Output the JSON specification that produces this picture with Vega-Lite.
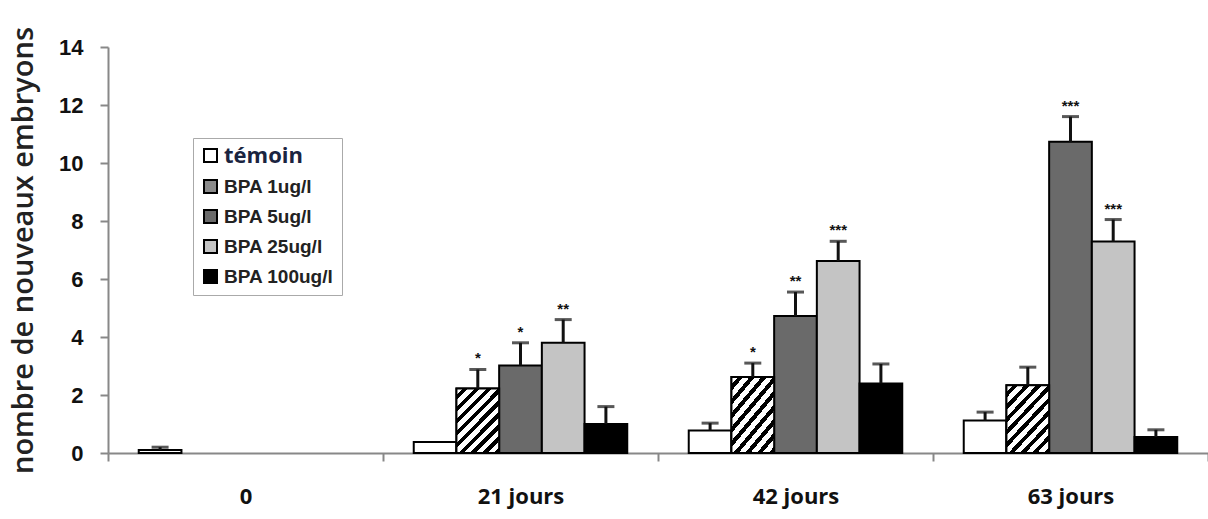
{
  "$schema": "https://vega.github.io/schema/vega-lite/v6.json",
  "width": 1100,
  "height": 406,
  "autosize": {"type": "none"},
  "padding": {"left": 108, "top": 47, "right": 0, "bottom": 66},
  "background": "white",
  "config": {"view": {"stroke": null}},
  "data": {
    "values": [
      {"groupe": "0", "serie": "témoin", "valeur": 0.1, "haut": 0.2, "sig": ""},
      {"groupe": "21 jours", "serie": "témoin", "valeur": 0.38, "haut": null, "sig": ""},
      {"groupe": "21 jours", "serie": "BPA 1ug/l", "valeur": 2.22, "haut": 2.88, "sig": "*"},
      {"groupe": "21 jours", "serie": "BPA 5ug/l", "valeur": 3.02, "haut": 3.8, "sig": "*"},
      {"groupe": "21 jours", "serie": "BPA 25ug/l", "valeur": 3.8, "haut": 4.6, "sig": "**"},
      {"groupe": "21 jours", "serie": "BPA 100ug/l", "valeur": 1.0, "haut": 1.6, "sig": ""},
      {"groupe": "42 jours", "serie": "témoin", "valeur": 0.78, "haut": 1.03, "sig": ""},
      {"groupe": "42 jours", "serie": "BPA 1ug/l", "valeur": 2.62, "haut": 3.1, "sig": "*"},
      {"groupe": "42 jours", "serie": "BPA 5ug/l", "valeur": 4.72, "haut": 5.55, "sig": "**"},
      {"groupe": "42 jours", "serie": "BPA 25ug/l", "valeur": 6.62, "haut": 7.3, "sig": "***"},
      {"groupe": "42 jours", "serie": "BPA 100ug/l", "valeur": 2.4, "haut": 3.07, "sig": ""},
      {"groupe": "63 jours", "serie": "témoin", "valeur": 1.12, "haut": 1.41, "sig": ""},
      {"groupe": "63 jours", "serie": "BPA 1ug/l", "valeur": 2.34, "haut": 2.96, "sig": ""},
      {"groupe": "63 jours", "serie": "BPA 5ug/l", "valeur": 10.73, "haut": 11.6, "sig": "***"},
      {"groupe": "63 jours", "serie": "BPA 25ug/l", "valeur": 7.29, "haut": 8.05, "sig": "***"},
      {"groupe": "63 jours", "serie": "BPA 100ug/l", "valeur": 0.55, "haut": 0.8, "sig": ""}
    ]
  },
  "encoding": {
    "x": {
      "field": "groupe",
      "type": "nominal",
      "sort": ["0", "21 jours", "42 jours", "63 jours"],
      "scale": {"domain": ["0", "21 jours", "42 jours", "63 jours"], "paddingInner": 0, "paddingOuter": 0},
      "axis": {
        "title": null,
        "labelAngle": 0,
        "tickBand": "extent",
        "domainColor": "#888",
        "domainWidth": 2,
        "tickColor": "#888",
        "tickWidth": 2,
        "tickSize": 8,
        "labelFont": "Open Sans",
        "labelFontWeight": "bold",
        "labelFontSize": 22,
        "labelColor": "#111",
        "labelPadding": 25
      }
    },
    "xOffset": {
      "field": "serie",
      "type": "nominal",
      "scale": {"domain": ["témoin", "BPA 1ug/l", "BPA 5ug/l", "BPA 25ug/l", "BPA 100ug/l"], "paddingInner": 0, "paddingOuter": 0.72}
    }
  },
  "layer": [
    {
      "mark": {"type": "bar", "stroke": "black", "strokeWidth": 2},
      "encoding": {
        "y": {
          "field": "valeur",
          "type": "quantitative",
          "scale": {"domain": [0, 14], "nice": false},
          "axis": {
            "title": "nombre de nouveaux embryons",
            "titleFont": "Open Sans",
            "titleFontSize": 29,
            "titleFontWeight": 600,
            "titleColor": "#222",
            "titlePadding": 20,
            "values": [0, 2, 4, 6, 8, 10, 12, 14],
            "grid": false,
            "domainColor": "#888",
            "domainWidth": 2,
            "tickColor": "#888",
            "tickWidth": 2,
            "tickSize": 8,
            "labelFont": "Liberation Sans",
            "labelFontWeight": "bold",
            "labelFontSize": 22,
            "labelColor": "#111",
            "labelPadding": 17
          }
        },
        "fill": {
          "field": "serie",
          "type": "nominal",
          "scale": {
            "domain": ["témoin", "BPA 1ug/l", "BPA 5ug/l", "BPA 25ug/l", "BPA 100ug/l"],
            "range": ["white", "#8a8a8a", "#6a6a6a", "#c4c4c4", "black"]
          },
          "legend": {
            "title": null,
            "orient": "none",
            "legendX": 85,
            "legendY": 91,
            "direction": "vertical",
            "strokeColor": "#aaa",
            "padding": 8,
            "symbolType": "square",
            "symbolSize": 169,
            "symbolStrokeColor": "black",
            "symbolStrokeWidth": 2,
            "labelFont": "Liberation Sans",
            "labelFontWeight": "bold",
            "labelFontSize": 19,
            "labelColor": "#222",
            "labelOffset": 4,
            "rowPadding": 9,
            "labelLimit": 200,
            "encode": {
              "labels": {
                "update": {
                  "fontSize": {"signal": "datum.value === 'témoin' ? 22 : 19"},
                  "font": {"signal": "datum.value === 'témoin' ? 'Open Sans' : 'Liberation Sans'"},
                  "fill": {"signal": "datum.value === 'témoin' ? '#1a2440' : '#222'"}
                }
              }
            }
          }
        }
      }
    },
    {
      "transform": [{"filter": "datum.serie === 'BPA 1ug/l'"}],
      "mark": {
        "type": "bar",
        "stroke": "black",
        "strokeWidth": 2,
        "fill": {
          "gradient": "linear",
          "x1": 0, "y1": 0, "x2": 0.77, "y2": 1.15,
          "stops": [
            {"offset": 0, "color": "white"}, {"offset": 0.061, "color": "white"}, {"offset": 0.061, "color": "black"}, {"offset": 0.111, "color": "black"},
            {"offset": 0.111, "color": "white"}, {"offset": 0.172, "color": "white"}, {"offset": 0.172, "color": "black"}, {"offset": 0.222, "color": "black"},
            {"offset": 0.222, "color": "white"}, {"offset": 0.283, "color": "white"}, {"offset": 0.283, "color": "black"}, {"offset": 0.333, "color": "black"},
            {"offset": 0.333, "color": "white"}, {"offset": 0.394, "color": "white"}, {"offset": 0.394, "color": "black"}, {"offset": 0.444, "color": "black"},
            {"offset": 0.444, "color": "white"}, {"offset": 0.505, "color": "white"}, {"offset": 0.505, "color": "black"}, {"offset": 0.556, "color": "black"},
            {"offset": 0.556, "color": "white"}, {"offset": 0.617, "color": "white"}, {"offset": 0.617, "color": "black"}, {"offset": 0.667, "color": "black"},
            {"offset": 0.667, "color": "white"}, {"offset": 0.728, "color": "white"}, {"offset": 0.728, "color": "black"}, {"offset": 0.778, "color": "black"},
            {"offset": 0.778, "color": "white"}, {"offset": 0.839, "color": "white"}, {"offset": 0.839, "color": "black"}, {"offset": 0.889, "color": "black"},
            {"offset": 0.889, "color": "white"}, {"offset": 0.95, "color": "white"}, {"offset": 0.95, "color": "black"}, {"offset": 1, "color": "black"}
          ]
        }
      },
      "encoding": {
        "y": {"field": "valeur", "type": "quantitative"}
      }
    },
    {
      "transform": [{"filter": "datum.haut != null"}],
      "mark": {"type": "rule", "color": "#111", "strokeWidth": 3},
      "encoding": {
        "y": {"field": "valeur", "type": "quantitative"},
        "y2": {"field": "haut"}
      }
    },
    {
      "transform": [{"filter": "datum.haut != null"}],
      "mark": {"type": "tick", "color": "#111", "thickness": 3, "size": 17},
      "encoding": {
        "y": {"field": "haut", "type": "quantitative"}
      }
    },
    {
      "transform": [{"filter": "datum.sig != ''"}],
      "mark": {"type": "text", "font": "Liberation Sans", "fontWeight": "bold", "fontSize": 15, "color": "#111", "baseline": "middle", "dy": -11},
      "encoding": {
        "y": {"field": "haut", "type": "quantitative"},
        "text": {"field": "sig"}
      }
    }
  ]
}
